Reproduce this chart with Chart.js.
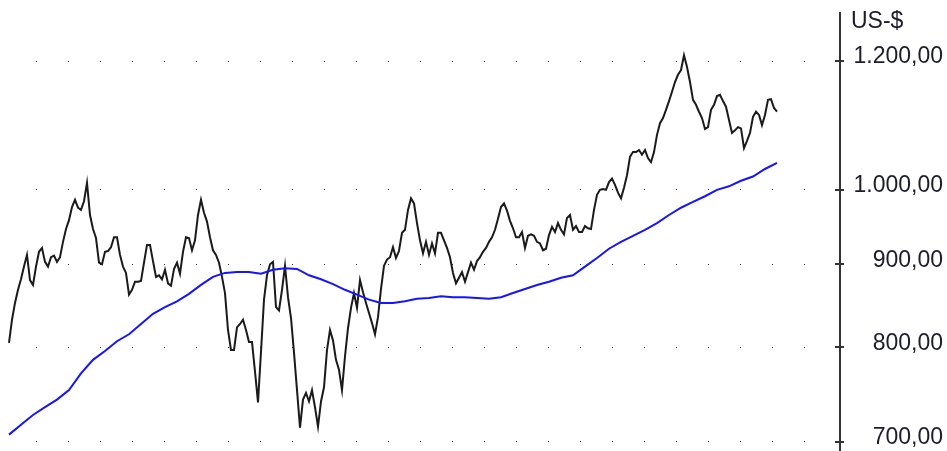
<!DOCTYPE html>
<html>
<head>
<meta charset="utf-8">
<script src="https://cdn.jsdelivr.net/npm/chart.js@4.4.1/dist/chart.umd.min.js"></script>
<style>
  html, body { margin: 0; padding: 0; background: #fff; }
  canvas { display: block; }
</style>
</head>
<body>
<canvas id="goldChart" width="947" height="451"></canvas>
<script>
// price samples (US-$), one every 3 trading days
const prices = [
  805, 832, 852, 868, 881, 897, 912, 880, 874, 897,
  916, 921, 903, 897, 909, 911, 903, 909, 929, 946,
  958, 976, 986, 975, 972, 984, 1010, 965, 946, 934,
  902, 900, 916, 917, 922, 935, 935, 912, 897, 889,
  862, 868, 878, 878, 879, 902, 925, 925, 904, 884,
  886, 881, 893, 876, 873, 894, 902, 888, 916, 935,
  934, 918, 931, 965, 986, 968, 956, 935, 918, 912,
  902, 884, 864, 820, 797, 797, 823, 827, 832, 820,
  806, 806, 773, 740, 795, 856, 886, 900, 903, 847,
  843, 868, 898, 859, 834, 794, 753, 714, 743, 750,
  741, 753, 735, 715, 741, 756, 797, 820, 808, 786,
  775, 753, 790, 822, 846, 864, 846, 880, 865, 852,
  840, 828, 815, 835, 869, 898, 906, 909, 922, 908,
  917, 941, 945, 972, 988, 981, 954, 931, 914, 929,
  912, 927, 914, 941, 941, 931, 921, 909, 889, 876,
  883, 890, 878, 890, 902, 893, 904, 909, 916, 921,
  929, 935, 945, 960, 976, 981, 971, 957, 947, 935,
  935, 942, 921, 937, 939, 937, 929, 927, 918, 920,
  938, 949, 942, 954, 945, 939, 961, 965, 945, 950,
  942, 942, 950, 947, 946, 972, 993, 1000, 1001, 1000,
  1011, 1016, 1007, 996, 988, 1003, 1021, 1048, 1055, 1055,
  1058, 1051, 1058, 1046, 1040, 1055, 1081, 1099, 1107, 1120,
  1134, 1149, 1165, 1177, 1185, 1210, 1190, 1165, 1136, 1128,
  1117, 1107, 1090, 1093, 1120, 1128, 1142, 1144, 1134, 1125,
  1104, 1084, 1088, 1093, 1091, 1061, 1072, 1084, 1109, 1117,
  1112, 1096, 1112, 1136, 1137, 1123, 1117
];

// moving average, read every 4th price sample
const avgEvery = 4;
const avgPrices = [
  707, 717, 727, 735, 743, 753, 771, 786, 796, 807,
  815, 827, 839, 847, 854, 863, 874, 884, 889, 890,
  890, 888, 893, 895, 894, 886, 881, 875, 868, 862,
  856, 852, 852, 854, 857, 858, 860, 859, 859, 858,
  857, 859, 864, 869, 874, 878, 883, 886, 897, 908,
  920, 929, 937, 945, 954, 965, 975, 983, 991, 1000,
  1005, 1013, 1019, 1030, 1039
];

const tickValues = [700, 800, 900, 1000, 1200];
const unitLabel = 'US-$';

const FONT = "'Liberation Sans', Arial, sans-serif";

function fmtDe(v) {
    const parts = Number(v).toFixed(2).split('.');
    return parts[0].replace(/\B(?=(\d{3})+(?!\d))/g, '.') + ',' + parts[1];
}

// axis line, tick marks crossing it, and the unit label
const axisDecor = {
    id: 'axisDecor',
    afterDraw(chart) {
        const ctx = chart.ctx;
        const area = chart.chartArea;
        const y = chart.scales.y;
        const ax = area.right + 1;
        ctx.save();
        ctx.strokeStyle = '#333';
        ctx.lineWidth = 2;
        ctx.beginPath();
        ctx.moveTo(ax, area.top);
        ctx.lineTo(ax, area.bottom);
        ctx.stroke();
        tickValues.forEach(v => {
            const py = Math.round(y.getPixelForValue(v));
            ctx.beginPath();
            ctx.moveTo(ax - 5, py);
            ctx.lineTo(ax + 4, py);
            ctx.stroke();
        });
        ctx.fillStyle = '#1c1c2c';
        ctx.font = '23px ' + FONT;
        ctx.textBaseline = 'middle';
        ctx.textAlign = 'left';
        ctx.fillText(unitLabel, area.right + 12, 22);
        ctx.restore();
    }
};

const ctx = document.getElementById('goldChart').getContext('2d');
new Chart(ctx, {
    type: 'line',
    data: {
        datasets: [{
            label: 'Durchschnitt',
            data: avgPrices.map((v, j) => ({ x: j * avgEvery, y: v })),
            borderColor: '#1414ff',
            borderWidth: 2,
            pointRadius: 0,
            tension: 0
        }, {
            label: 'Kurs',
            data: prices.map((v, i) => ({ x: i, y: v })),
            borderColor: '#1a1a1a',
            borderWidth: 2,
            pointRadius: 0,
            tension: 0
        }]
    },
    options: {
        responsive: false,
        animation: false,
        layout: { padding: { top: 12, left: 8, right: 4, bottom: 0 } },
        plugins: {
            legend: { display: false },
            tooltip: { enabled: false }
        },
        scales: {
            x: {
                type: 'linear',
                display: false,
                min: -1 / 3,
                max: 276.667
            },
            y: {
                type: 'logarithmic',
                position: 'right',
                min: 690.8,
                max: 1286.5,
                afterBuildTicks: scale => {
                    scale.ticks = tickValues.map(v => ({ value: v }));
                },
                afterFit: scale => {
                    scale.width = 104;
                    scale.paddingTop = 0;
                    scale.paddingBottom = 0;
                },
                grid: {
                    color: '#333',
                    lineWidth: 1,
                    drawTicks: false
                },
                border: {
                    display: false,
                    dash: [1, 31],
                    dashOffset: 4
                },
                ticks: {
                    crossAlign: 'far',
                    padding: 13,
                    labelOffset: -4,
                    color: '#1c1c2c',
                    font: { family: FONT, size: 23 },
                    callback: v => fmtDe(v)
                }
            }
        }
    },
    plugins: [axisDecor]
});
</script>
</body>
</html>
